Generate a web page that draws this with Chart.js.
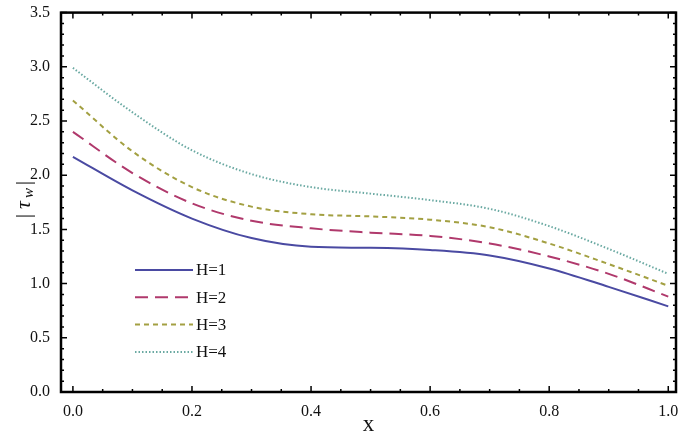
<!DOCTYPE html>
<html><head><meta charset="utf-8">
<script src="https://cdn.jsdelivr.net/npm/chart.js@4/dist/chart.umd.min.js"></script>
<style>html,body{margin:0;padding:0;background:#fff}#w{width:685px;height:443px}</style>
</head><body><div id="w"><canvas id="c"></canvas></div>
<script>
const xs = [0,0.1,0.2,0.3,0.4,0.5,0.6,0.7,0.8,0.9,1.0];
const h1 = [2.17,1.86,1.60,1.42,1.34,1.33,1.31,1.26,1.14,0.97,0.79];
const h2 = [2.40,2.02,1.74,1.58,1.51,1.47,1.44,1.37,1.25,1.09,0.88];
const h3 = [2.69,2.22,1.89,1.71,1.64,1.62,1.59,1.52,1.37,1.18,0.98];
const h4 = [2.99,2.58,2.23,2.01,1.89,1.83,1.77,1.69,1.53,1.32,1.09];
const labels = ['H=1','H=2','H=3','H=4'];
const xTicks = [0,0.2,0.4,0.6,0.8,1.0];
const serif = '"Liberation Serif", "DejaVu Serif", serif';
function ds(lbl, vals, color, dash){
  return {label:lbl, data: xs.map((x,i)=>({x, y: vals[i]})), borderColor: color, borderDash: dash,
    borderWidth: 2, pointRadius: 0, cubicInterpolationMode: 'monotone', fill:false};
}
const frame = {
  id:'frame',
  afterDraw(ch){
    const {ctx, chartArea:a, scales:{x, y}} = ch;
    ctx.save();
    ctx.strokeStyle='#000'; ctx.lineWidth=2.5;
    ctx.strokeRect(a.left, a.top, a.right-a.left, a.bottom-a.top);
    ctx.lineWidth=1.5;
    for(let v=0; v<=1.0001; v+=0.05){
      const p=x.getPixelForValue(v); const L = Math.abs(v*5-Math.round(v*5))<1e-6 ? 6 : 3;
      ctx.beginPath(); ctx.moveTo(p,a.bottom); ctx.lineTo(p,a.bottom-L); ctx.moveTo(p,a.top); ctx.lineTo(p,a.top+L); ctx.stroke();
    }
    for(let v=0; v<=3.5001; v+=0.1){
      const p=y.getPixelForValue(v); const L = Math.abs(v*2-Math.round(v*2))<1e-6 ? 6 : 3;
      ctx.beginPath(); ctx.moveTo(a.left,p); ctx.lineTo(a.left+L,p); ctx.moveTo(a.right,p); ctx.lineTo(a.right-L,p); ctx.stroke();
    }
    ctx.font = '17px '+serif; ctx.fillStyle='#111'; ctx.textBaseline='middle';
    ch.data.datasets.forEach((d,i)=>{
      const yy = 270 + i*27.3;
      ctx.strokeStyle=d.borderColor; ctx.lineWidth=2; ctx.setLineDash(d.borderDash||[]);
      ctx.beginPath(); ctx.moveTo(135,yy); ctx.lineTo(193,yy); ctx.stroke();
      ctx.setLineDash([]);
      ctx.fillText(d.label, 196, yy+1);
    });
    ctx.save(); ctx.translate(24, 200); ctx.rotate(-Math.PI/2);
    ctx.fillStyle='#111'; ctx.textAlign='center';
    ctx.font='22px '+serif; ctx.fillText('|', -16, 0);
    ctx.font='italic 22px '+serif; ctx.fillText('τ', -5, 0);
    ctx.font='italic 15px '+serif; ctx.fillText('w', 7, 5);
    ctx.font='22px '+serif; ctx.fillText('|', 17, 0);
    ctx.restore();
    ctx.restore();
  }
};
new Chart(document.getElementById('c'), {
  type:'line',
  data:{datasets:[ds(labels[0],h1,'#4a4aa2',[]), ds(labels[1],h2,'#b0396c',[13,7]), ds(labels[2],h3,'#a3a042',[5,4]), ds(labels[3],h4,'#6aa9a2',[1.5,2])]},
  options:{
    responsive:true, maintainAspectRatio:false, animation:false,
    layout:{padding:{top:12,right:9,left:0,bottom:0}},
    plugins:{legend:{display:false}, tooltip:{enabled:false}},
    scales:{
      x:{type:'linear', min:-0.02, max:1.013, grid:{display:false}, border:{display:false},
        afterBuildTicks(s){ s.ticks = xTicks.map(v=>({value:v})); },
        afterFit(s){ s.height = 51; },
        ticks:{color:'#111', font:{family:serif,size:16}, padding:2, callback:v=>Number(v).toFixed(1), maxRotation:0},
        title:{display:true, text:'x', color:'#111', font:{family:serif,size:23}, padding:{top:0}}},
      y:{min:0, max:3.5, grid:{display:false}, border:{display:false},
        afterFit(s){ s.width = 61; },
        ticks:{stepSize:0.5, color:'#111', font:{family:serif,size:16}, padding:3, callback:v=>Number(v).toFixed(1)}}
    }
  },
  plugins:[frame]
});
</script></body></html>
